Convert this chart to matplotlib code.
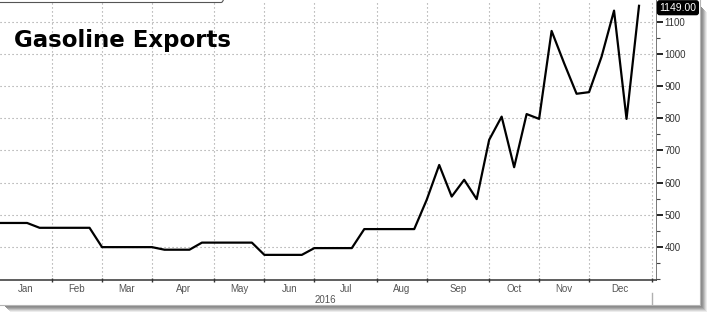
import matplotlib
matplotlib.use('Agg')
import matplotlib.pyplot as plt
from matplotlib.patches import Rectangle, FancyBboxPatch
from matplotlib.ticker import MultipleLocator
import pandas as pd

# weekly gasoline exports, 2016 (Fridays)
week_dates = pd.date_range('2016-01-01', periods=53, freq='7D')
exports = [475, 475, 475, 475,
           460, 460, 460, 460, 460,
           400, 400, 400, 400, 400,
           392, 392, 392,
           414, 414, 414, 414, 414,
           376, 376, 376, 376,
           397, 397, 397, 397,
           456, 456, 456, 456, 456,
           547, 655, 557, 609, 549, 733, 805, 648, 813, 798,
           1071, 971, 876, 881, 991, 1134, 798, 1149]
month_labels = ['Jan', 'Feb', 'Mar', 'Apr', 'May', 'Jun',
                'Jul', 'Aug', 'Sep', 'Oct', 'Nov', 'Dec']
y_ticks = [400, 500, 600, 700, 800, 900, 1000, 1100]
last_label = '1149.00'
year_label = '2016'
title = 'Gasoline Exports'

W, H = 708, 312
fig = plt.figure(figsize=(W / 100, H / 100), dpi=100)
fig.patch.set_facecolor('white')

# background layer in pixel coords (frame + drop shadow)
bg = fig.add_axes([0, 0, 1, 1], zorder=0)
bg.set_xlim(0, W)
bg.set_ylim(H, 0)
bg.axis('off')
shade = ['#9a9a9a', '#8a8a8a', '#959595', '#a8a8a8', '#c0c0c0', '#d8d8d8', '#ececec']
for i, c in enumerate(shade):
    bg.add_patch(Rectangle((4 + i, 305 + i), 696, 1, color=c, lw=0))
    bg.add_patch(Rectangle((700 + i, 6 + i), 1, 300, color=c, lw=0))
bg.plot([0, 700, 700], [304.5, 304.5, 0], color='#b5b5b5', lw=0.8)
bg.add_patch(FancyBboxPatch((-6, -20), 231, 22.5, boxstyle='round,pad=0,rounding_size=4',
                            fc='none', ec='#555555', lw=0.8))

ax = fig.add_axes([0, 32 / H, 655.5 / W, 1 - 32 / H], zorder=1)
ax.patch.set_alpha(0)

x = list(range(len(exports)))
ax.plot(x, exports, color='black', lw=1.6, zorder=3)

x_left, x_right = 0.83, 53.32
ax.set_xlim(x_left, x_right)
ax.set_ylim(298, 1167)

# month boundaries from the weekly dates
starts = [i for i in range(1, len(week_dates)) if week_dates[i].month != week_dates[i - 1].month]
bounds = starts + [len(week_dates)]

grid_kw = dict(color='#999999', lw=0.8, ls=(0, (1, 2.6)), zorder=1)
for b in bounds:
    ax.axvline(b, **grid_kw)
for v in y_ticks:
    ax.axhline(v, **grid_kw)

edges = [x_left] + bounds
for i, name in enumerate(month_labels):
    ax.text((edges[i] + edges[i + 1]) / 2, -0.032, name, transform=ax.get_xaxis_transform(),
            ha='center', va='center', fontsize=7, color='#555555', family='Liberation Sans')
ax.text(0.497, -0.072, year_label, transform=ax.transAxes, ha='center', va='center',
        fontsize=7, color='#555555', family='Liberation Sans')
ax.plot([bounds[-1], bounds[-1]], [-0.045, -0.085], transform=ax.get_xaxis_transform(),
        color='#b0b0b0', lw=1, clip_on=False)

ax.set_xticks(bounds)
ax.set_xticklabels([])
ax.tick_params(axis='x', direction='inout', length=3, width=1, color='#333333')

ax.yaxis.tick_right()
ax.set_yticks(y_ticks)
ax.set_yticklabels([str(v) for v in y_ticks], family='Liberation Sans', fontsize=7, color='#333333')
ax.yaxis.set_minor_locator(MultipleLocator(50))
ax.tick_params(axis='y', which='major', direction='out', length=5, width=1.4, color='#222222', pad=1.5)
ax.tick_params(axis='y', which='minor', direction='out', length=3, width=0.8, color='#444444')

for s in ['left', 'top']:
    ax.spines[s].set_visible(False)
ax.spines['bottom'].set_color('#333333')
ax.spines['bottom'].set_linewidth(1.1)
ax.spines['right'].set_color('#777777')
ax.spines['right'].set_linewidth(0.7)

ax.text(1.006, exports[-1] - 6, last_label, transform=ax.get_yaxis_transform(), ha='left', va='center',
        fontsize=7.5, color='white', family='Liberation Sans',
        bbox=dict(boxstyle='round,pad=0.18,rounding_size=0.2', fc='black', ec='black'))

fig.text(14 / W, 1 - 47 / H, title, fontsize=16.5, fontweight='bold', family='DejaVu Sans',
         ha='left', va='baseline', color='black')

fig.savefig('out.png', dpi=100, facecolor='white')
